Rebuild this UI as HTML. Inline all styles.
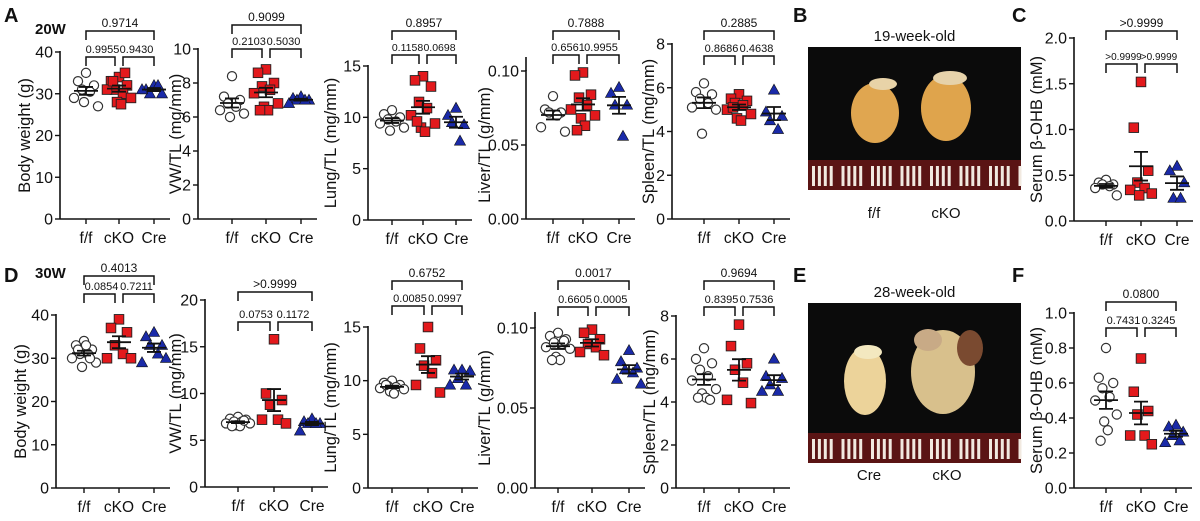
<!DOCTYPE html>
<html><head><meta charset="utf-8"><style>
body{margin:0;background:#fff;width:1200px;height:516px;overflow:hidden}
svg text{font-family:"Liberation Sans",Arial,sans-serif;fill:#111}
</style></head><body>
<svg id="fig" width="1200" height="516" viewBox="0 0 1200 516" xmlns="http://www.w3.org/2000/svg">
<text x="4" y="22" font-size="20" font-weight="bold">A</text>
<text x="35" y="34" font-size="15" font-weight="bold">20W</text>
<text x="793" y="22" font-size="20" font-weight="bold">B</text>
<text x="1012" y="22" font-size="20" font-weight="bold">C</text>
<text x="4" y="282" font-size="20" font-weight="bold">D</text>
<text x="35" y="278" font-size="15" font-weight="bold">30W</text>
<text x="793" y="282" font-size="20" font-weight="bold">E</text>
<text x="1012" y="282" font-size="20" font-weight="bold">F</text>
</svg>
<script>
const groups = ["f/f","cKO","Cre"];
// Panel A data
const a1FF=[35,33,32,31,30.5,29,27,28], a1KO=[34,33,32,31,30,31,29,28,27.5,33,35], a1CR=[32,31,30,30,32,31];
const a2FF=[8.4,7.2,7.0,6.8,6.6,6.4,6.2,6.0], a2KO=[8.8,8.6,8.0,7.8,7.6,7.4,6.8,6.6,6.4,6.4], a2CR=[7.2,7.1,7.0,7.0,7.0,6.8];
const a3FF=[10.7,10.3,10.0,9.8,9.6,9.4,9.0,8.7], a3KO=[14,13.6,13,11.5,10.9,10.2,9.4,9.0,8.6,9.6], a3CR=[10.9,10.2,9.3,9.5,7.7];
const a4FF=[0.083,0.074,0.072,0.072,0.070,0.062,0.059], a4KO=[0.099,0.097,0.084,0.082,0.077,0.074,0.070,0.068,0.063,0.060], a4CR=[0.089,0.085,0.077,0.077,0.056];
const a5FF=[6.2,5.8,5.7,5.5,5.3,5.1,5.0,3.9], a5KO=[5.7,5.5,5.4,5.3,5.2,5.0,4.8,4.6,4.5,5.1], a5CR=[5.9,4.9,4.7,4.5,4.1];
const cFF=[0.45,0.42,0.40,0.40,0.38,0.36,0.28], cKO=[1.52,1.02,0.55,0.42,0.36,0.34,0.30,0.28], cCR=[0.60,0.55,0.42,0.25,0.25];
// Panel D/F data
const d1FF=[34,33,32,31,31,30,29,28,33,32,30], d1KO=[39,37,36,33,31,30,30], d1CR=[36,35,33,33,31,29,30];
const d2FF=[7.5,7.3,7.2,7.0,7.0,6.8,6.8,6.6,6.5,6.5,7.1], d2KO=[15.8,10,9.3,8.8,7.2,7.2,6.8], d2CR=[7.3,7.0,6.8,6.8,6.8,6.0];
const d3FF=[10,9.8,9.6,9.5,9.4,9.3,9.2,9.0,8.8,9.6], d3KO=[15,13,11.9,11.4,10.7,9.6,8.9], d3CR=[11,11,10.9,10.2,9.6,9.6];
const d4FF=[0.097,0.095,0.093,0.091,0.090,0.088,0.087,0.082,0.080,0.080,0.092], d4KO=[0.099,0.097,0.093,0.090,0.088,0.085,0.083], d4CR=[0.086,0.079,0.075,0.074,0.072,0.068,0.065];
const d5FF=[6.5,6.0,5.8,5.5,5.2,5.0,4.6,4.4,4.2,4.2,4.1], d5KO=[7.6,6.6,5.8,5.5,4.9,4.1,3.95], d5CR=[6.0,5.2,5.1,4.8,4.5,4.5];
const fFF=[0.80,0.63,0.60,0.57,0.52,0.50,0.42,0.38,0.33,0.27], fKO=[0.74,0.55,0.44,0.42,0.30,0.30,0.25], fCR=[0.36,0.35,0.32,0.30,0.27,0.26];
// p-value labels [top, left, right]
const pA1=["0.9714","0.9955","0.9430"], pA2=["0.9099","0.2103","0.5030"], pA3=["0.8957","0.1158","0.0698"], pA4=["0.7888","0.6561","0.9955"], pA5=["0.2885","0.8686","0.4638"], pC=[">0.9999",">0.9999",">0.9999"];
const pD1=["0.4013","0.0854","0.7211"], pD2=[">0.9999","0.0753","0.1172"], pD3=["0.6752","0.0085","0.0997"], pD4=["0.0017","0.6605","0.0005"], pD5=["0.9694","0.8395","0.7536"], pF=["0.0800","0.7431","0.3245"];
const ticksBW=[0,10,20,30,40], ticksVW1=[0,2,4,6,8,10], ticksL=[0,5,10,15], ticksLiv=["0.00","0.05","0.10"], ticksS=[0,2,4,6,8], ticksC=["0.0","0.5","1.0","1.5","2.0"], ticksVW2=[0,5,10,15,20], ticksF=["0.0","0.2","0.4","0.6","0.8","1.0"];

const svg=document.getElementById('fig');
const NS="http://www.w3.org/2000/svg";
function mk(tag,attrs,parent){const e=document.createElementNS(NS,tag);for(const k in attrs)e.setAttribute(k,attrs[k]);(parent||svg).appendChild(e);return e;}
function stats(a){const m=a.reduce((s,v)=>s+v,0)/a.length;const sd=Math.sqrt(a.reduce((s,v)=>s+(v-m)*(v-m),0)/(a.length-1));return [m,sd/Math.sqrt(a.length)];}
const jit=[0,-8,8,-4,4,-12,12,-2,2,-6,6,-10,10];

function panel(P){
  const g=mk('g',{});
  
  
  const y=v=>P.y0-(v/P.ymax)*(P.y0-P.ytop);
  const ax=mk('line',{x1:P.ax,x2:P.ax,y1:P.ytop-1,y2:P.y0,stroke:'#111','stroke-width':1.6},g);
  
  
  P.ticks.forEach(t=>{const v=parseFloat(t);
    mk('line',{x1:P.ax-5,x2:P.ax,y1:y(v),y2:y(v),stroke:'#111','stroke-width':1.4},g);
    const tl=mk('text',{x:P.ax-7,y:y(v)+5.5,'font-size':16,'text-anchor':'end'},g);tl.textContent=t;
    
    
  });
  const xe=P.gx[2]+16;
  const xa=mk('line',{x1:P.ax,x2:xe,y1:P.y0,y2:P.y0,stroke:'#111','stroke-width':1.6},g);
  
  
  groups.forEach((gn,i)=>{
    mk('line',{x1:P.gx[i],x2:P.gx[i],y1:P.y0,y2:P.y0+5,stroke:'#111','stroke-width':1.4},g);
    const t=mk('text',{x:P.gx[i],y:P.y0+24,'font-size':15.5,'text-anchor':'middle'},g);t.textContent=gn;
    
    
  });
  const yt=mk('text',{x:0,y:0,'font-size':16.5,'text-anchor':'middle',transform:`translate(${P.lx},${(P.ytop+P.y0)/2}) rotate(-90)`},g);
  yt.textContent=P.title;
  
  
  [P.d[0],P.d[1],P.d[2]].forEach((arr,gi)=>{
    arr.forEach((v,i)=>{const cx=P.gx[gi]+jit[i%jit.length]*(P.spread||1),cy=y(v);let m;
      if(gi===0)m=mk('circle',{cx,cy,r:4.6,fill:'#fff',stroke:'#333','stroke-width':1.2},g);
      else if(gi===1)m=mk('rect',{x:cx-4.8,y:cy-4.8,width:9.6,height:9.6,fill:'#e3191c',stroke:'#222','stroke-width':0.9},g);
      else m=mk('polygon',{points:`${cx},${cy-5.8} ${cx-5.6},${cy+4.2} ${cx+5.6},${cy+4.2}`,fill:'#1a2aa8',stroke:'#111','stroke-width':0.6},g);
      
      
    });
    const [mn,se]=stats(arr),gx=P.gx[gi];
    const e=mk('path',{d:`M${gx-12},${y(mn)}H${gx+12}M${gx},${y(mn+se)}V${y(mn-se)}M${gx-7},${y(mn+se)}H${gx+7}M${gx-7},${y(mn-se)}H${gx+7}`,stroke:'#111','stroke-width':1.8,fill:'none'},g);
    
    
  });
  const [g0,g1,g2]=P.gx,dr=9;
  const br=mk('path',{d:`M${g0},${P.bt+dr}V${P.bt}H${g2}V${P.bt+dr}M${g0},${P.bl+dr}V${P.bl}H${g1-4}V${P.bl+dr}M${g1+4},${P.bl+dr}V${P.bl}H${g2}V${P.bl+dr}`,stroke:'#111','stroke-width':1.5,fill:'none'},g);
  
  
  [[(g0+g2)/2,P.bt,P.p[0],12],[(g0+g1)/2,P.bl,P.p[1],P.pfs||11],[(g1+g2)/2,P.bl,P.p[2],P.pfs||11]].forEach(([x,yy,s,fs])=>{
    const t=mk('text',{x,y:yy-4,'font-size':fs,'text-anchor':'middle'},g);t.textContent=s;
    
    
  });
}
const panels=[
 {name:'chart-a-body-weight',ax:60,ytop:52,y0:219,ymax:40,ticks:ticksBW,gx:[86,119,154],lx:30,title:'Body weight (g)',d:[a1FF,a1KO,a1CR],p:pA1,bt:31,bl:57},
 {name:'chart-a-vw-tl',ax:198,ytop:49,y0:219,ymax:10,ticks:ticksVW1,gx:[232,266,301],lx:181,title:'VW/TL (mg/mm)',d:[a2FF,a2KO,a2CR],p:pA2,bt:25,bl:49},
 {name:'chart-a-lung-tl',ax:368,ytop:66,y0:220,ymax:15,ticks:ticksL,gx:[392,423,456],lx:336,title:'Lung/TL (mg/mm)',d:[a3FF,a3KO,a3CR],p:pA3,bt:31,bl:55,pfs:10.5},
 {name:'chart-a-liver-tl',ax:526,ytop:71,y0:219,ymax:0.10,ticks:ticksLiv,gx:[553,583,619],lx:490,title:'Liver/TL (g/mm)',d:[a4FF,a4KO,a4CR],p:pA4,bt:31,bl:55},
 {name:'chart-a-spleen-tl',ax:672,ytop:44,y0:219,ymax:8,ticks:ticksS,gx:[704,739,774],lx:654,title:'Spleen/TL (mg/mm)',d:[a5FF,a5KO,a5CR],p:pA5,bt:31,bl:56},
 {name:'chart-c-serum-bohb',ax:1074,ytop:38,y0:221,ymax:2.0,ticks:ticksC,gx:[1106,1141,1177],lx:1042,title:'Serum β-OHB (mM)',d:[cFF,cKO,cCR],p:pC,bt:31,bl:64,pfs:10,spread:0.9},
 {name:'chart-d-body-weight',ax:56,ytop:315,y0:488,ymax:40,ticks:ticksBW,gx:[84,119,154],lx:26,title:'Body weight (g)',d:[d1FF,d1KO,d1CR],p:pD1,bt:276,bl:294},
 {name:'chart-d-vw-tl',ax:205,ytop:300,y0:487,ymax:20,ticks:ticksVW2,gx:[238,274,312],lx:181,title:'VW/TL (mg/mm)',d:[d2FF,d2KO,d2CR],p:pD2,bt:292,bl:322},
 {name:'chart-d-lung-tl',ax:368,ytop:327,y0:488,ymax:15,ticks:ticksL,gx:[392,428,462],lx:336,title:'Lung/TL (mg/mm)',d:[d3FF,d3KO,d3CR],p:pD3,bt:281,bl:306},
 {name:'chart-d-liver-tl',ax:535,ytop:328,y0:488,ymax:0.10,ticks:ticksLiv,gx:[558,592,629],lx:490,title:'Liver/TL (g/mm)',d:[d4FF,d4KO,d4CR],p:pD4,bt:281,bl:307},
 {name:'chart-d-spleen-tl',ax:676,ytop:316,y0:488,ymax:8,ticks:ticksS,gx:[704,739,774],lx:655,title:'Spleen/TL (mg/mm)',d:[d5FF,d5KO,d5CR],p:pD5,bt:281,bl:307},
 {name:'chart-f-serum-bohb',ax:1074,ytop:313,y0:488,ymax:1.0,ticks:ticksF,gx:[1106,1141,1176],lx:1042,title:'Serum β-OHB (mM)',d:[fFF,fKO,fCR],p:pF,bt:302,bl:328,spread:0.9}
];
panels.forEach(panel);
[[526,71,57],[535,328,312]].forEach(([x,a,b])=>mk('line',{x1:x,x2:x,y1:b,y2:a,stroke:'#111','stroke-width':1.6}));

function photo(name,x,y,w,h,rulerTop,title,labels,hearts){
  const g=mk('g',{});
  
  
  mk('rect',{x,y,width:w,height:h,fill:'#0b0b0b'},g);
  mk('rect',{x,y:rulerTop,width:w,height:y+h-rulerTop,fill:'#5a1414'},g);
  for(let i=0;i<36;i++){const bx=x+4+i*5.9;if(i%5===4)continue;mk('rect',{x:bx,y:rulerTop+6,width:3,height:y+h-rulerTop-10,fill:'#f1e9e0'},g);}
  hearts.forEach(([cx,cy,rx,ry,col])=>{mk('ellipse',{cx,cy,rx,ry,fill:col},g);});
  const t=mk('text',{x:x+w/2,y:y-6,'font-size':15,'text-anchor':'middle'},g);t.textContent=title;
  
  
  labels.forEach(([lx,ly,s])=>{const l=mk('text',{x:lx,y:ly,'font-size':15,'text-anchor':'middle'},g);l.textContent=s;
    
    });
}
photo('photo-b-19-week',808,47,213,143,160,'19-week-old',[[874,218,'f/f'],[946,218,'cKO']],
 [[875,113,24,30,'#e0a650'],[883,84,14,6,'#e8d3a8'],[946,108,25,33,'#dfa44c'],[950,78,17,7,'#e6d2aa']]);
photo('photo-e-28-week',808,303,213,160,433,'28-week-old',[[869,480,'Cre'],[947,480,'cKO']],
 [[865,381,21,34,'#ecd39a'],[868,352,14,7,'#f3e8c0'],[943,372,32,42,'#d8c08c'],[970,348,13,18,'#7a4a30'],[928,340,14,11,'#c8aa86']]);
</script>
</body></html>
